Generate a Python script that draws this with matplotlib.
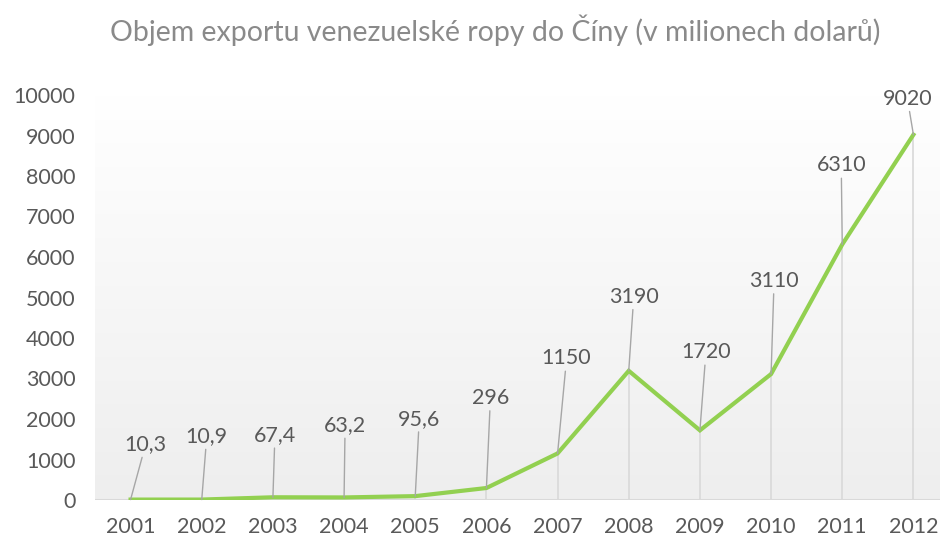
import numpy as np
import matplotlib
matplotlib.use("Agg")
import matplotlib.pyplot as plt
from matplotlib.colors import LinearSegmentedColormap

# data
years = ["2001", "2002", "2003", "2004", "2005", "2006",
         "2007", "2008", "2009", "2010", "2011", "2012"]
export_values = [10.3, 10.9, 67.4, 63.2, 95.6, 296, 1150, 3190, 1720, 3110, 6310, 9020]
value_labels = ["10,3", "10,9", "67,4", "63,2", "95,6", "296",
                "1150", "3190", "1720", "3110", "6310", "9020"]

# label placement (pixel offsets from point to text centre)
label_offsets = [(15, 55), (5, 63), (2, 62), (1, 72), (4, 77), (4, 90),
                 (9, 95), (5, 74), (6, 78), (3, 93), (-1, 79), (-6, 36)]

plt.rcParams['font.family'] = ['Lato', 'DejaVu Sans']
text_col = '#595959'

fig = plt.figure(figsize=(9.4, 5.39), dpi=100)
ax = fig.add_axes([95 / 940, 39 / 539, (949 - 95) / 940, (500 - 95) / 539])

x = np.arange(len(years))
ax.set_xlim(-0.5, len(years) - 0.5)
ax.set_ylim(0, 10000)

# plot area gradient: white at top, light grey at bottom
cmap = LinearSegmentedColormap.from_list('bg', ['#ffffff', '#eeeeee'])
ax.imshow(np.linspace(0, 1, 256).reshape(-1, 1), cmap=cmap, aspect='auto',
          extent=[-0.5, len(years) - 0.5, 0, 10000], zorder=0, origin='upper')

# drop lines
ax.vlines(x, 0, export_values, color='#d9d9d9', lw=1.2, zorder=1)
ax.axhline(0, color='#d9d9d9', lw=1.5, zorder=1)

ax.plot(x, export_values, color='#92d050', lw=3, zorder=3, solid_joinstyle='miter')

for xi, v, lab, off in zip(x, export_values, value_labels, label_offsets):
    ax.annotate(lab, xy=(xi, v), xytext=off, textcoords='offset pixels',
                ha='center', va='center', fontsize=15.5, color=text_col,
                arrowprops=dict(arrowstyle='-', color='#a6a6a6', lw=1,
                                shrinkA=0, shrinkB=0, relpos=(0.5, 0.5)),
                zorder=4)

ax.set_xticks(x)
ax.set_xticklabels(years)
ax.set_yticks(np.arange(0, 10001, 1000))
ax.tick_params(axis='both', length=0, labelsize=15.5, labelcolor=text_col)
ax.tick_params(axis='y', pad=14)
ax.tick_params(axis='x', pad=12)
for s in ax.spines.values():
    s.set_visible(False)

fig.text(495 / 940, 1 - 30 / 539, "Objem exportu venezuelské ropy do Číny (v milionech dolarů)",
         ha='center', va='center', fontsize=20.5, color='#8a8a8a')

fig.savefig('out.png', dpi=100)
